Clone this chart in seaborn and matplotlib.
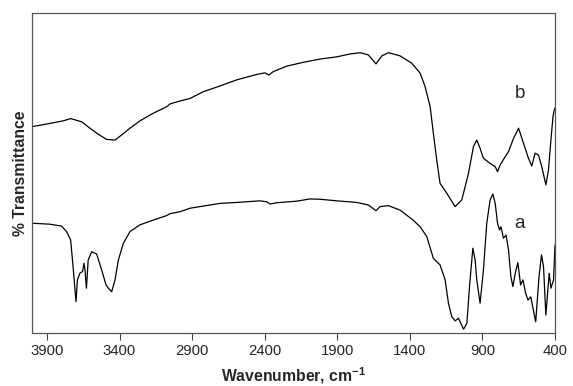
import numpy as np
import pandas as pd
import matplotlib
matplotlib.use("Agg")
import matplotlib.pyplot as plt
import seaborn as sns

# Spectrum b (upper)
wn_b = [4000, 3879, 3788, 3737, 3661, 3604, 3546, 3489, 3431, 3385, 3328, 3259, 3167,
        3075, 3052, 2983, 2914, 2823, 2708, 2593, 2455, 2398, 2372, 2340, 2248, 2133,
        2019, 1903, 1812, 1743, 1686, 1633, 1593, 1548, 1467, 1387, 1329, 1295, 1260,
        1238, 1215, 1192, 1146, 1088, 1042, 996, 962, 939, 916, 893, 847, 812, 796,
        778, 743, 720, 686, 651, 617, 583, 560, 537, 514, 491, 463, 445, 428, 414,
        405, 400]
t_b = [64.5, 65.5, 66.3, 67.0, 66.0, 64.0, 62.1, 60.5, 60.3, 61.9, 64.0, 66.3, 68.7,
       70.7, 71.6, 72.5, 73.3, 75.4, 77.2, 79.1, 80.8, 81.3, 80.6, 81.7, 83.4, 84.6,
       85.6, 86.3, 87.2, 87.6, 86.9, 84.1, 86.6, 87.6, 86.6, 84.3, 81.2, 77.0, 70.7,
       62.4, 54.1, 46.8, 43.7, 39.5, 41.6, 49.9, 58.2, 60.3, 57.7, 54.6, 53.0, 52.0,
       50.4, 52.5, 55.1, 56.7, 60.8, 64.0, 59.3, 54.6, 52.2, 56.2, 55.6, 52.0, 46.3,
       50.9, 60.3, 67.6, 69.7, 70.3]

# Spectrum a (lower)
wn_a = [4000, 3879, 3799, 3765, 3737, 3720, 3700, 3690, 3673, 3655, 3645, 3638, 3628,
        3616, 3592, 3558, 3523, 3493, 3471, 3454, 3431, 3408, 3374, 3328, 3259, 3167,
        3075, 3052, 2983, 2914, 2708, 2593, 2432, 2386, 2363, 2317, 2179, 2087, 2019,
        1903, 1766, 1686, 1633, 1605, 1548, 1467, 1378, 1329, 1283, 1238, 1192, 1157,
        1134, 1111, 1088, 1065, 1030, 1007, 989, 966, 950, 939, 916, 893, 870, 847,
        828, 812, 796, 782, 772, 755, 737, 720, 704, 690, 674, 656, 637, 621, 602,
        586, 567, 533, 510, 493, 479, 463, 440, 428, 410, 400]
t_a = [34.3, 34.0, 33.4, 31.7, 29.1, 20.7, 9.8, 16.6, 18.7, 19.2, 21.8, 19.7, 14.0,
       22.8, 25.4, 24.7, 19.7, 15.0, 13.7, 12.9, 16.6, 22.8, 28.0, 31.7, 33.8, 35.3,
       36.7, 37.3, 37.9, 39.0, 40.5, 40.8, 41.3, 41.0, 40.3, 40.7, 41.2, 41.9, 41.8,
       41.3, 40.8, 40.0, 38.2, 39.5, 39.8, 38.4, 35.3, 33.2, 30.1, 23.3, 21.3, 16.6,
       9.3, 5.1, 3.8, 4.6, 1.2, 3.0, 14.5, 26.5, 22.8, 16.6, 9.3, 19.7, 34.3, 41.6,
       43.4, 40.5, 34.3, 32.2, 33.2, 29.6, 30.6, 25.9, 17.6, 14.5, 18.7, 22.0, 15.0,
       16.6, 12.4, 10.3, 11.3, 3.5, 17.6, 24.4, 20.7, 5.6, 18.7, 14.0, 16.6, 27.5]

xticks = [3900, 3400, 2900, 2400, 1900, 1400, 900, 400]
labels = ["a", "b"]
label_pos_wn = [645, 642]
label_pos_t = [34.3, 74.9]

df = pd.concat([
    pd.DataFrame({"wn": wn_a, "T": t_a, "sample": "a"}),
    pd.DataFrame({"wn": wn_b, "T": t_b, "sample": "b"}),
])

sns.set_style("white")
plt.rcParams["font.family"] = ["Liberation Sans", "DejaVu Sans"]
plt.rcParams["mathtext.fontset"] = "custom"
plt.rcParams["mathtext.rm"] = "Liberation Sans"
plt.rcParams["mathtext.bf"] = "Liberation Sans:bold"

fig = plt.figure(figsize=(5.73, 3.86), dpi=100)
ax = fig.add_axes([32/573, 53/386, (555-32)/573, (333-13)/386])

sns.lineplot(data=df, x="wn", y="T", units="sample", estimator=None, sort=False,
             color="black", linewidth=0.9, ax=ax, legend=False)

ax.set_xlim(4003, 400)
ax.set_ylim(0, 100)
ax.set_xticks(xticks)
ax.set_xticklabels([str(v) for v in xticks], fontsize=10.7)
ax.set_yticks([])
ax.tick_params(axis="x", direction="out", length=5, width=0.8, color="#444444",
               bottom=True, pad=3)
for s in ax.spines.values():
    s.set_color("#555555")
    s.set_linewidth(0.9)

ax.set_xlabel("Wavenumber, cm$^{\\mathbf{-1}}$", fontsize=11.3, fontweight="bold", labelpad=5)
ax.set_ylabel("% Transmittance", fontsize=11.3, fontweight="bold", labelpad=3)

for lab, x, y in zip(labels, label_pos_wn, label_pos_t):
    ax.text(x, y, lab, fontsize=13.5, ha="center", va="center")

fig.savefig("out.png", dpi=100)
